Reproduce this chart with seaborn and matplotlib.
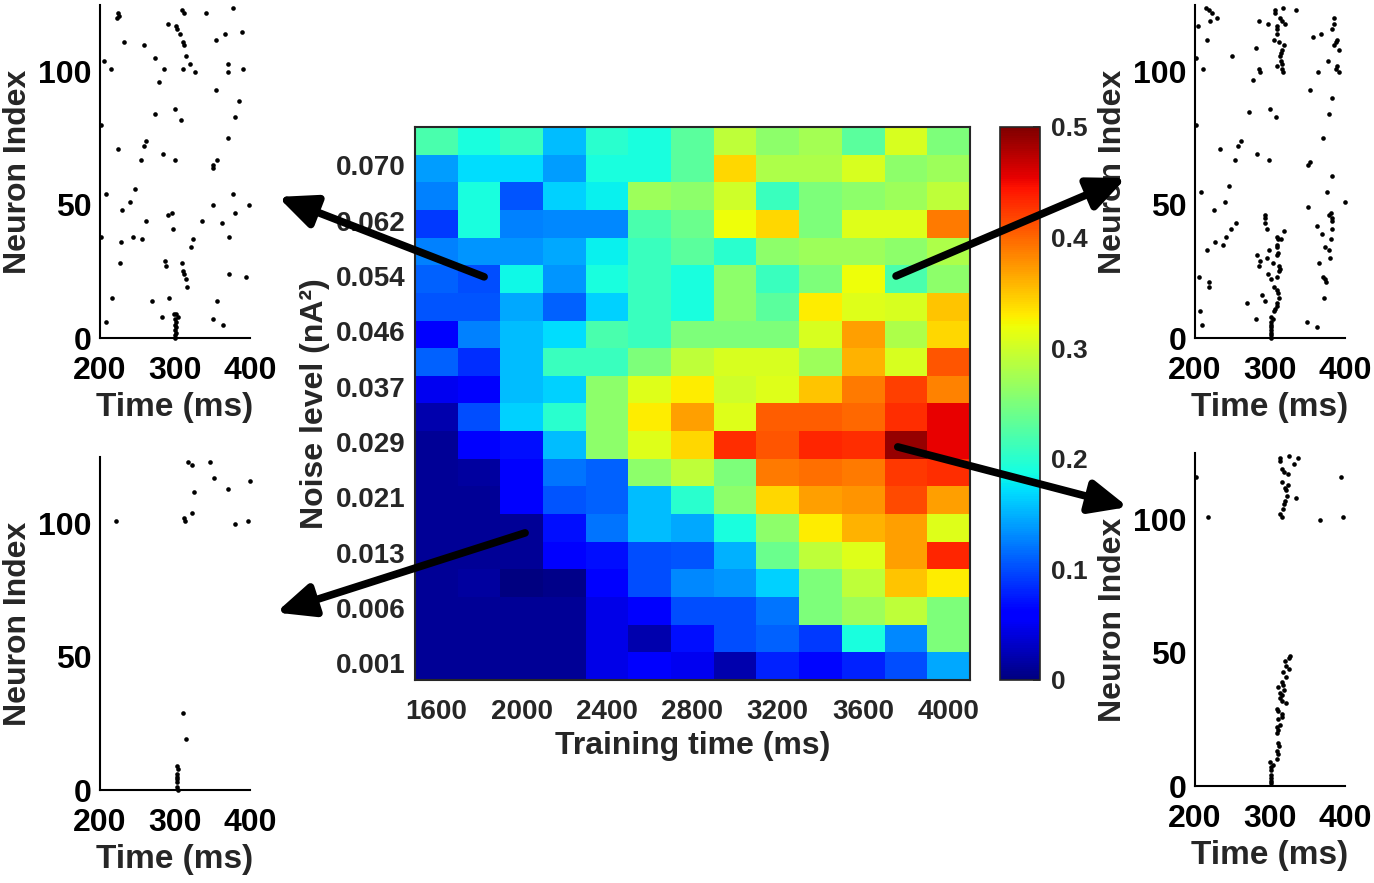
import numpy as np
import pandas as pd
import seaborn as sns
import matplotlib.pyplot as plt
from matplotlib.patches import ConnectionPatch

sns.set_style('white')
plt.rcParams['font.family'] = ['Liberation Sans', 'DejaVu Sans']
plt.rcParams['font.weight'] = 'bold'
plt.rcParams['axes.labelweight'] = 'bold'

# heatmap data
training_time = [1600, 1800, 2000, 2200, 2400, 2600, 2800, 3000, 3200, 3400, 3600, 3800, 4000]
# noise levels, bottom row -> top row
noise_level = [0.001, 0.004, 0.006, 0.010, 0.013, 0.017, 0.021, 0.025, 0.029, 0.033,
               0.037, 0.042, 0.046, 0.050, 0.054, 0.058, 0.062, 0.066, 0.070, 0.074]
# performance, top row (highest noise) -> bottom row
performance = [
    [0.22, 0.19, 0.21, 0.155, 0.20, 0.19, 0.23, 0.29, 0.26, 0.275, 0.23, 0.305, 0.25],
    [0.14, 0.17, 0.17, 0.14, 0.19, 0.19, 0.23, 0.34, 0.28, 0.28, 0.305, 0.26, 0.27],
    [0.125, 0.19, 0.105, 0.165, 0.18, 0.27, 0.26, 0.30, 0.21, 0.25, 0.26, 0.27, 0.29],
    [0.09, 0.19, 0.125, 0.13, 0.13, 0.22, 0.24, 0.32, 0.34, 0.25, 0.31, 0.31, 0.39],
    [0.125, 0.135, 0.135, 0.145, 0.18, 0.21, 0.23, 0.20, 0.26, 0.27, 0.27, 0.26, 0.28],
    [0.11, 0.10, 0.185, 0.135, 0.19, 0.21, 0.19, 0.26, 0.21, 0.25, 0.32, 0.22, 0.26],
    [0.105, 0.105, 0.145, 0.11, 0.165, 0.21, 0.19, 0.26, 0.23, 0.33, 0.31, 0.305, 0.35],
    [0.06, 0.125, 0.155, 0.17, 0.22, 0.21, 0.25, 0.25, 0.25, 0.305, 0.37, 0.28, 0.34],
    [0.11, 0.085, 0.155, 0.21, 0.21, 0.25, 0.29, 0.305, 0.305, 0.27, 0.36, 0.305, 0.41],
    [0.05, 0.06, 0.155, 0.165, 0.26, 0.31, 0.33, 0.30, 0.31, 0.35, 0.39, 0.42, 0.385],
    [0.02, 0.10, 0.165, 0.20, 0.26, 0.33, 0.37, 0.31, 0.405, 0.405, 0.40, 0.43, 0.455],
    [0.01, 0.055, 0.07, 0.155, 0.26, 0.31, 0.34, 0.43, 0.41, 0.435, 0.43, 0.49, 0.455],
    [0.01, 0.015, 0.055, 0.12, 0.11, 0.26, 0.29, 0.25, 0.39, 0.395, 0.39, 0.425, 0.43],
    [0.01, 0.01, 0.055, 0.105, 0.11, 0.155, 0.20, 0.26, 0.34, 0.37, 0.375, 0.415, 0.37],
    [0.01, 0.01, 0.01, 0.07, 0.12, 0.155, 0.145, 0.19, 0.26, 0.33, 0.36, 0.37, 0.31],
    [0.01, 0.01, 0.01, 0.055, 0.07, 0.10, 0.105, 0.15, 0.24, 0.29, 0.31, 0.37, 0.435],
    [0.01, 0.015, 0.0, 0.005, 0.06, 0.10, 0.13, 0.135, 0.165, 0.25, 0.29, 0.35, 0.33],
    [0.01, 0.01, 0.01, 0.01, 0.045, 0.06, 0.10, 0.10, 0.12, 0.25, 0.27, 0.29, 0.25],
    [0.01, 0.01, 0.01, 0.01, 0.045, 0.02, 0.07, 0.10, 0.11, 0.09, 0.19, 0.13, 0.25],
    [0.01, 0.01, 0.01, 0.01, 0.045, 0.06, 0.05, 0.02, 0.08, 0.065, 0.08, 0.10, 0.145],
]
cbar_ticks = [0, 0.1, 0.2, 0.3, 0.4, 0.5]

# raster data (spike time ms, neuron index)
tl_time = [224, 225, 223, 309, 312, 341, 377, 290, 301, 302, 389, 306, 367, 355, 232, 311, 312, 258,
           273, 315, 205, 320, 371, 310, 215, 285, 327, 371, 390, 278, 354, 385, 273, 300, 308, 380,
           201, 370, 261, 258, 224, 284, 254, 300, 356, 351, 350, 246, 208, 377, 240, 351, 399, 229,
           296, 290, 380, 261, 336, 363, 297, 201, 372, 244, 256, 324, 228, 321, 227, 287, 288, 309,
           310, 312, 314, 316, 372, 394, 216, 269, 292, 356, 282, 301, 299, 304, 350, 364, 208,
           300, 300, 301, 300, 301, 300, 301, 300]
tl_neuron = [122, 121, 120, 123, 122, 122, 124, 118, 117, 116, 115, 114, 114, 112, 111, 111, 110, 110,
             105, 106, 104, 103, 103, 101, 101, 101, 100, 100, 101, 96, 93, 89, 84, 86, 82, 83,
             80, 75, 74, 72, 71, 69, 67, 67, 67, 65, 64, 56, 54, 54, 51, 50, 50, 48,
             47, 46, 47, 44, 44, 43, 41, 38, 38, 38, 37, 37, 36, 34, 28, 29, 27, 28,
             25, 24, 22, 19, 24, 23, 15, 14, 15, 14, 8, 9, 9, 8, 7, 5, 6,
             0, 1, 2, 3, 4, 5, 6, 7]

tr_time = [215, 219, 223, 229, 220, 204, 216, 201, 211, 250, 281, 285, 298, 307, 307, 317, 335,
           313, 316, 320, 309, 310, 309, 306, 312, 319, 316, 315, 313, 315, 316, 309, 316, 318,
           285, 287, 278, 357, 368, 385, 385, 383, 389, 388, 385, 392, 377, 389, 388, 392, 364,
           354, 382, 378, 272, 300, 308, 201, 370, 261, 257, 234, 283, 253, 299, 353, 351, 382,
           246, 208, 376, 240, 351, 400, 226, 293, 294, 381, 378, 383, 382, 255, 248, 293, 296,
           363, 382, 319, 241, 216, 227, 237, 309, 311, 315, 309, 310, 299, 311, 310, 369, 381,
           373, 378, 380, 283, 287, 285, 296, 304, 312, 313, 312, 365, 297, 309, 302, 370, 373,
           374, 205, 219, 219, 306, 309, 311, 312, 290, 293, 372, 269, 309, 310, 307, 207, 305,
           302, 304, 281, 210, 349, 362, 301, 302, 301, 302, 301, 302, 301]
tr_neuron = [124, 123, 122, 120, 119, 117, 112, 105, 101, 106, 109, 119, 118, 123, 122, 124, 123,
             120, 119, 118, 117, 116, 114, 112, 111, 110, 108, 107, 106, 104, 103, 102, 101, 100,
             101, 100, 97, 113, 114, 120, 118, 116, 112, 111, 110, 108, 104, 102, 101, 100, 100,
             93, 90, 84, 85, 86, 83, 80, 75, 74, 72, 71, 69, 67, 67, 66, 65, 61,
             57, 55, 55, 51, 49, 51, 48, 46, 45, 47, 46, 45, 44, 43, 41, 43, 41,
             42, 41, 40, 38, 33, 36, 35, 38, 37, 37, 35, 34, 33, 32, 31, 39, 37,
             34, 33, 30, 31, 29, 27, 30, 28, 27, 26, 25, 28, 24, 23, 22, 23, 22,
             21, 23, 21, 19, 19, 18, 17, 15, 16, 14, 15, 13, 13, 12, 11, 10, 10,
             8, 7, 7, 5, 6, 4, 0, 1, 2, 3, 4, 5, 6]

bl_time = [317, 323, 347, 352, 400, 370, 325, 322, 312, 313, 221, 380, 397, 311, 314,
           302, 304, 303, 303, 302, 303, 302, 304]
bl_neuron = [123, 122, 123, 117, 116, 113, 112, 104, 102, 101, 101, 100, 101, 29, 19,
             9, 8, 6, 5, 4, 3, 1, 0]

br_time = [325, 338, 314, 313, 332, 316, 319, 324, 201, 394, 316, 324, 320, 321, 323, 335, 320,
           319, 317, 314, 316, 218, 367, 397,
           327, 325, 320, 321, 326, 318, 322, 316, 318, 311, 319, 313, 316, 313, 316, 321,
           309, 311, 316, 316, 311, 313, 309, 311, 309, 311, 312, 310, 311, 310,
           300, 304, 301, 302, 301, 302, 302, 302]
br_neuron = [124, 123, 123, 122, 121, 119, 118, 117, 116, 116, 114, 113, 112, 111, 109, 108, 107,
             106, 104, 102, 101, 101, 100, 101,
             49, 48, 47, 45, 44, 43, 41, 39, 38, 37, 36, 35, 34, 33, 32, 31,
             29, 28, 27, 26, 25, 23, 22, 21, 20, 16, 15, 13, 12, 10,
             9, 8, 7, 6, 4, 3, 2, 1]

text_c = '#262626'
fig = plt.figure(figsize=(13.74, 8.83), dpi=100)

# heatmap
ax = fig.add_axes([0.3020, 0.2299, 0.4039, 0.6263])
cax = fig.add_axes([0.7278, 0.2299, 0.0291, 0.6263])
df = pd.DataFrame(performance, index=noise_level[::-1], columns=training_time)
sns.heatmap(df, ax=ax, cbar_ax=cax, cmap='jet', vmin=0, vmax=0.5,
            cbar_kws={'ticks': cbar_ticks})
n_rows = len(noise_level)
ytick_pos = [i + 0.5 for i in range(n_rows) if (n_rows - 1 - i) % 2 == 0]
ytick_lab = ['%.3f' % noise_level[n_rows - 1 - int(p)] for p in ytick_pos]
ax.set_yticks(ytick_pos)
ax.set_yticklabels(ytick_lab, rotation=0)
xtick_pos = [j + 0.5 for j in range(len(training_time)) if j % 2 == 0]
ax.set_xticks(xtick_pos)
ax.set_xticklabels([str(training_time[int(p)]) for p in xtick_pos], rotation=0)
for s in ax.spines.values():
    s.set_visible(True)
    s.set_linewidth(1.5)
    s.set_color(text_c)
ax.tick_params(direction='in', top=True, right=True, length=6, width=1.5,
               labelsize=20, color=text_c, labelcolor=text_c, pad=7)
ax.tick_params(axis='x', pad=14)
ax.set_xlabel('Training time (ms)', fontsize=23, color=text_c, labelpad=4)
ax.set_ylabel('Noise level (nA²)', fontsize=23, color=text_c, labelpad=4)

cb = ax.collections[0].colorbar
cb.ax.set_yticklabels(['0', '0.1', '0.2', '0.3', '0.4', '0.5'])
cb.outline.set_visible(True)
cb.outline.set_linewidth(1.2)
cb.outline.set_edgecolor(text_c)
cb.ax.tick_params(direction='in', length=5, width=1.2, labelsize=19,
                  color=text_c, labelcolor=text_c, pad=8)

# rasters
rasters = [
    ([0.0728, 0.6172, 0.1092, 0.3771], tl_time, tl_neuron),
    ([0.0728, 0.1053, 0.1092, 0.3771], bl_time, bl_neuron),
    ([0.8697, 0.6172, 0.1092, 0.3771], tr_time, tr_neuron),
    ([0.8697, 0.1098, 0.1092, 0.3771], br_time, br_neuron),
]
raster_axes = []
for rect, t, n in rasters:
    rax = fig.add_axes(rect)
    sns.scatterplot(x=t, y=n, ax=rax, color='k', s=11, linewidth=0, clip_on=False)
    rax.set_xlim(200, 400)
    rax.set_ylim(0, 125)
    rax.set_xticks([200, 300, 400])
    rax.set_yticks([0, 50, 100])
    sns.despine(ax=rax)
    for side in ['left', 'bottom']:
        rax.spines[side].set_linewidth(1.5)
        rax.spines[side].set_color('k')
    rax.tick_params(direction='in', length=5, width=1.5, labelsize=23, pad=6,
                    colors='k')
    rax.tick_params(axis='x', pad=13)
    for lab in rax.get_xticklabels() + rax.get_yticklabels():
        lab.set_fontweight('bold')
    rax.set_xlabel('Time (ms)', fontsize=24, labelpad=4)
    rax.set_ylabel('Neuron Index', fontsize=23, labelpad=4)
    rax.patch.set_alpha(0)
    raster_axes.append(rax)

for lab in ax.get_xticklabels() + ax.get_yticklabels() + cb.ax.get_yticklabels():
    lab.set_fontweight('bold')

# arrows from heatmap cells to rasters
arrows = [
    ((1.62, 5.42), (0.2023, 0.7770)),
    ((2.58, 14.68), (0.2009, 0.3063)),
    ((11.27, 5.39), (0.8195, 0.7984)),
    ((11.31, 11.57), (0.8209, 0.4258)),
]
for tail, head in arrows:
    con = ConnectionPatch(xyA=tail, coordsA=ax.transData, xyB=head, coordsB=fig.transFigure,
                          arrowstyle='-|>,head_length=0.9,head_width=0.4', mutation_scale=25,
                          lw=5.5, color='k', shrinkA=0, shrinkB=0)
    fig.add_artist(con)

fig.savefig('out.png', dpi=100)
